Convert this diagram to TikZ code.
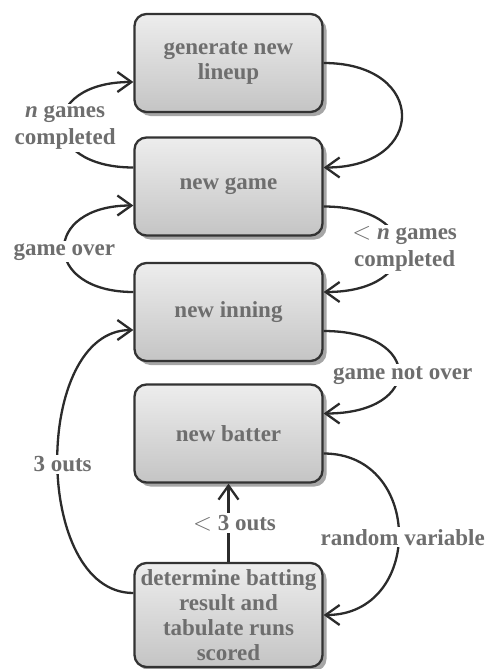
\documentclass[tikz,border=0pt]{standalone}
\usepackage{fontspec}
\setmainfont{Liberation Serif}
\usetikzlibrary{arrows.meta,shadows}
\definecolor{boxline}{HTML}{333333}
\definecolor{wire}{HTML}{2B2B2B}
\definecolor{labelgray}{HTML}{6E6E6E}
\tikzset{
  stage/.style={draw=boxline,line width=2.3pt,rounded corners=12pt,
    top color=black!7,bottom color=black!23,minimum width=188pt,
    minimum height=98pt,align=center,text=labelgray,inner sep=0pt,
    drop shadow={shadow xshift=4pt,shadow yshift=-4pt,fill=black!35,opacity=1}},
  cond/.style={fill=white,text=labelgray,align=center,inner sep=2pt,
    font=\bfseries\fontsize{23}{27}\selectfont},
}
\begin{document}
\begin{tikzpicture}[x=1pt,y=-1pt,>={Straight Barb[length=14pt,width=20pt]},
  line width=2.3pt,font=\bfseries\fontsize{23}{25}\selectfont]
  \useasboundingbox (0,0) rectangle (486,669);
  \node[stage] (lineup) at (228.5,63) {generate new\\lineup};
  \node[stage] (game) at (228.5,186.5) {new game};
  \node[stage] (inning) at (228.5,312) {new inning};
  \node[stage] (batter) at (228.5,433.5) {new batter};
  \node[stage,minimum height=104pt] (result) at (228.5,615)
    {determine batting\\result and\\tabulate runs\\scored};
  % game loop
  \draw[wire,->] (lineup.east) .. controls +(104,0) and +(104,0) .. ([yshift=19pt]game.east);
  \draw[wire,->] ([yshift=19pt]game.west) .. controls +(-95,0) and +(-95,0) .. ([yshift=-19pt]lineup.west)
    node[cond,pos=.5,xshift=3pt,yshift=-3pt] {\textit{n} games\\completed};
  \draw[wire,->] ([yshift=20pt]inning.west) .. controls +(-92,0) and +(-92,0) .. ([yshift=-19pt]game.west)
    node[cond,pos=.5,yshift=-3pt] {game over};
  \draw[wire,->] ([yshift=-20pt]game.east) .. controls +(100,0) and +(100,0) .. ([yshift=20pt]inning.east)
    node[cond,pos=.5,xshift=6pt] {$<$ \textit{n} games\\completed};
  % inning loop
  \draw[wire,->] ([yshift=-19pt]inning.east) .. controls +(100,0) and +(100,0) .. ([yshift=20pt]batter.east)
    node[cond,pos=.5,xshift=4pt,yshift=-3pt] {game not over};
  \draw[wire,->] ([yshift=-20pt]batter.east) .. controls +(100,0) and +(100,0) .. (result.east)
    node[cond,pos=.5,xshift=4pt,yshift=-3pt] {random variable};
  \draw[wire,->] ([yshift=22pt]result.west) .. controls +(-101,0) and +(-101,0) .. ([yshift=-18pt]inning.west)
    node[cond,pos=.5,xshift=5pt,yshift=-3pt] {3 outs};
  \draw[wire,->] (result.north) -- (batter.south)
    node[cond,pos=.5,xshift=6pt] {$<$ 3 outs};
\end{tikzpicture}
\end{document}
